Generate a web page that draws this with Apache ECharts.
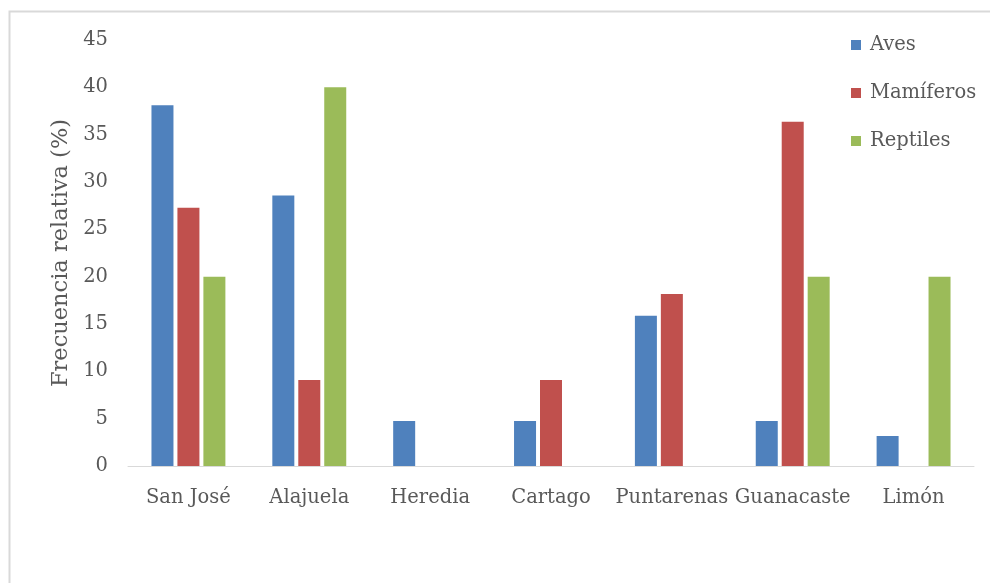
<!DOCTYPE html>
<html>
<head>
<meta charset="utf-8">
<script src="https://cdn.jsdelivr.net/npm/echarts@6/dist/echarts.min.js"></script>
<style>
  html, body { margin: 0; padding: 0; background: #fff; }
  #chart { width: 990px; height: 583px; }
</style>
</head>
<body>
<div id="chart"></div>
<script>
// Provinces of Costa Rica
const provinces = ['San José', 'Alajuela', 'Heredia', 'Cartago', 'Puntarenas', 'Guanacaste', 'Limón'];

// Relative frequency (%) per group
const aves = [38.10, 28.57, 4.76, 4.76, 15.87, 4.76, 3.17];
const mamiferos = [27.27, 9.09, 0, 9.09, 18.18, 36.36, 0];
const reptiles = [20, 40, 0, 0, 0, 20, 20];

const seriesNames = ['Aves', 'Mamíferos', 'Reptiles'];
const colors = ['#4f81bd', '#c0504d', '#9bbb59'];

const FONT = 'DejaVu Serif';
const TEXT = '#595959';

const chart = echarts.init(document.getElementById('chart'));

const seriesData = [aves, mamiferos, reptiles];

chart.setOption({
  animation: false,
  graphic: [{
    type: 'rect',
    shape: { x: 9.5, y: 11.5, width: 1000, height: 600 },
    style: { fill: 'none', stroke: '#d9d9d9', lineWidth: 2 },
    silent: true
  }],
  grid: { left: 128, right: 16, top: 40, bottom: 117 },
  legend: {
    orient: 'vertical',
    left: 851,
    top: 35,
    padding: 0,
    itemWidth: 10,
    itemHeight: 10,
    itemGap: 28,
    icon: 'rect',
    textStyle: { fontFamily: FONT, fontSize: 19.5, lineHeight: 20, color: TEXT, padding: [0, 0, 0, 4] },
    data: seriesNames
  },
  xAxis: {
    type: 'category',
    data: provinces,
    axisLine: { lineStyle: { color: '#d9d9d9', width: 1 } },
    axisTick: { show: false },
    axisLabel: { fontFamily: FONT, fontSize: 19.5, color: TEXT, margin: 22, interval: 0 }
  },
  yAxis: {
    type: 'value',
    min: 0,
    max: 45,
    interval: 5,
    name: 'Frecuencia relativa (%)',
    nameLocation: 'middle',
    nameGap: 53,
    nameTextStyle: { fontFamily: FONT, fontSize: 22.5, color: TEXT },
    axisLine: { show: false },
    axisTick: { show: false },
    splitLine: { show: false },
    axisLabel: { fontFamily: FONT, fontSize: 19.5, color: TEXT, margin: 20 }
  },
  series: seriesData.map((d, i) => ({
    name: seriesNames[i],
    type: 'bar',
    data: d,
    barWidth: 22,
    barGap: '18%',
    barCategoryGap: '39%',
    itemStyle: { color: colors[i] }
  }))
});
</script>
</body>
</html>
